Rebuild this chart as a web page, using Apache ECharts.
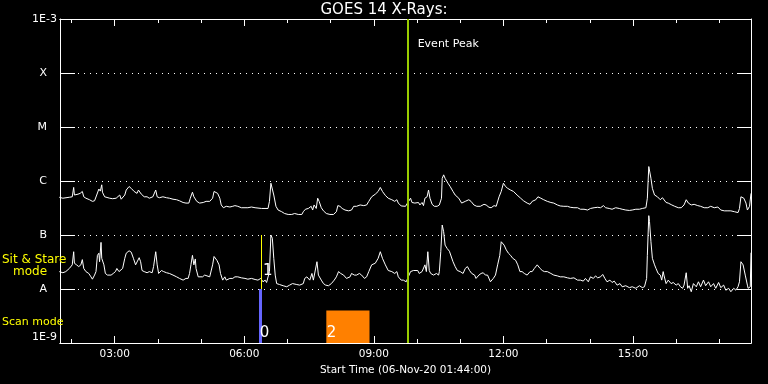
<!DOCTYPE html>
<html>
<head>
<meta charset="utf-8">
<script src="https://cdn.jsdelivr.net/npm/echarts@6/dist/echarts.min.js"></script>
<style>
html,body{margin:0;padding:0;background:#000;}
#chart{width:768px;height:384px;}
</style>
</head>
<body>
<div id="chart"></div>
<script>
// ---------- DATA ----------
// time axis: minutes since 00:00 on 06-Nov-20
const startMinute = 104;   // 01:44
const endMinute = 1064;    // 17:44
const hourTickMinutes = [120,180,240,300,360,420,480,540,600,660,720,780,840,900,960,1020];
const labelTickMinutes = [180,360,540,720,900];
// y-axis tick labels for each decade (log10 of flux)
const decadeExponents = [-9,-8,-7,-6,-5,-4,-3];
const decadeLabels = ['1E-9','A','B','C','M','X','1E-3'];

// GOES 1-8 A (long channel) flux, W/m^2
const longTimes = [
 103,108,117,121,123,124,129,132,135,137,140,145,149,152,155,158,160,162,163,166,
 168,173,177,182,184,187,189,191,194,196,200,203,207,211,213,217,221,225,228,233,
 237,239,242,247,252,256,261,266,270,275,279,283,285,288,290,292,294,298,303,307,
 312,316,318,320,323,326,328,331,335,340,344,
 347,351,356,365,370,375,384,393,395,397,399,401,404,407,412,416,421,426,430,435,
 440,442,445,449,453,455,457,460,462,464,467,470,474,479,484,488,490,493,496,500,
 505,509,512,516,521,526,530,533,537,542,546,549,552,556,560,565,569,572,574,578,584,586,
 591,593,597,602,604,607,609,611,614,616,618,621,624,628,631,634,635,637,639,643,
 646,650,653,658,662,667,672,675,679,683,688,693,696,700,703,707,710,714,717,720,
 723,726,730,734,739,744,748,753,757,760,765,768,772,776,781,786,790,795,799,804,
 809,813,818,823,
 827,832,837,841,846,851,855,859,862,867,871,876,881,885,890,895,899,904,909,913,
 918,920,922,923,925,927,930,934,938,941,943,946,949,954,958,963,967,971,974,977,
 981,985,990,994,999,1004,1008,1013,1018,1022,1027,1032,1036,1041,1046,1048,1050,1054,1057,1059,
 1062,1064
];
const longFlux = [
 5.0e-7,4.8e-7,5.0e-7,5.1e-7,7.6e-7,5.5e-7,5.7e-7,5.9e-7,6.4e-7,5.1e-7,4.8e-7,4.5e-7,4.2e-7,4.3e-7,5.5e-7,7.1e-7,6.5e-7,8.5e-7,6.2e-7,5.1e-7,
 4.8e-7,4.8e-7,4.7e-7,4.8e-7,5.1e-7,5.5e-7,4.6e-7,4.8e-7,5.5e-7,6.8e-7,7.9e-7,7.3e-7,6.4e-7,5.9e-7,6.8e-7,5.7e-7,5.1e-7,5.1e-7,4.8e-7,5.1e-7,
 6.8e-7,5.1e-7,4.9e-7,5.1e-7,4.9e-7,4.8e-7,4.6e-7,4.5e-7,4.3e-7,4.0e-7,3.9e-7,3.9e-7,4.8e-7,6.2e-7,5.1e-7,5.5e-7,4.2e-7,3.9e-7,4.0e-7,4.2e-7,
 4.2e-7,4.8e-7,6.4e-7,6.5e-7,5.9e-7,4.8e-7,3.6e-7,3.2e-7,3.4e-7,3.3e-7,3.4e-7,
 3.5e-7,3.4e-7,3.2e-7,3.2e-7,3.3e-7,3.2e-7,3.1e-7,3.1e-7,4.2e-7,9.1e-7,8.5e-7,5.5e-7,3.4e-7,2.9e-7,2.7e-7,2.5e-7,2.4e-7,2.4e-7,2.5e-7,2.4e-7,
 2.4e-7,2.7e-7,3.0e-7,3.1e-7,3.4e-7,2.9e-7,3.6e-7,3.1e-7,4.8e-7,4.2e-7,3.2e-7,2.8e-7,2.5e-7,2.4e-7,2.4e-7,2.7e-7,3.5e-7,3.4e-7,3.1e-7,2.9e-7,
 2.8e-7,2.9e-7,3.4e-7,3.4e-7,3.6e-7,3.5e-7,3.6e-7,4.2e-7,5.1e-7,5.7e-7,6.4e-7,7.6e-7,6.4e-7,5.4e-7,4.8e-7,4.5e-7,4.2e-7,4.5e-7,3.9e-7,3.45e-7,3.4e-7,3.5e-7,
 4.8e-7,4.0e-7,3.9e-7,4.0e-7,3.6e-7,4.0e-7,3.5e-7,4.8e-7,5.1e-7,6.8e-7,4.8e-7,3.7e-7,3.4e-7,3.4e-7,3.6e-7,4.8e-7,1.12e-6,1.3e-6,1.12e-6,9.1e-7,
 7.9e-7,6.4e-7,5.5e-7,4.8e-7,3.9e-7,4.2e-7,4.5e-7,4.2e-7,3.6e-7,3.4e-7,3.4e-7,3.7e-7,3.6e-7,3.26e-7,3.2e-7,3.5e-7,3.4e-7,5.1e-7,6.4e-7,9.1e-7,
 7.9e-7,7.3e-7,6.8e-7,6.4e-7,5.5e-7,4.8e-7,4.3e-7,3.9e-7,3.7e-7,4.2e-7,4.5e-7,5.1e-7,4.8e-7,4.5e-7,4.2e-7,4.0e-7,3.9e-7,3.6e-7,3.45e-7,3.4e-7,
 3.4e-7,3.26e-7,3.2e-7,3.2e-7,
 3.0e-7,3.0e-7,2.9e-7,3.1e-7,3.2e-7,3.26e-7,3.2e-7,3.5e-7,3.2e-7,3.1e-7,3.0e-7,3.2e-7,3.1e-7,3.0e-7,2.9e-7,2.85e-7,2.9e-7,3.0e-7,3.0e-7,3.1e-7,
 3.2e-7,4.8e-7,1.85e-6,1.73e-6,1.12e-6,7.3e-7,5.5e-7,5.1e-7,4.5e-7,4.9e-7,4.8e-7,4.0e-7,3.9e-7,3.6e-7,3.4e-7,3.2e-7,3.2e-7,3.6e-7,4.5e-7,3.9e-7,
 3.6e-7,3.7e-7,3.5e-7,3.4e-7,3.2e-7,3.2e-7,3.4e-7,3.2e-7,3.3e-7,2.9e-7,2.8e-7,2.8e-7,2.8e-7,2.7e-7,2.6e-7,3.1e-7,5.1e-7,4.8e-7,3.9e-7,2.9e-7,
 3.4e-7,5.9e-7
];

// GOES 0.5-4 A (short channel) flux, W/m^2
const shortTimes = [
 103,108,112,117,121,123,124,127,130,133,135,137,140,144,147,149,152,154,156,158,
 159,161,162,165,167,170,175,178,181,183,186,188,191,194,196,200,203,206,209,211,
 214,216,218,221,225,228,232,234,237,239,241,245,248,252,256,261,266,270,275,279,
 282,284,286,288,290,292,293,296,298,302,305,307,312,316,318,320,322,325,327,330,
 333,335,340,344,
 347,351,356,361,365,370,375,379,383,386,389,391,393,395,397,399,401,403,405,409,
 414,419,423,427,429,433,437,442,444,447,449,451,454,456,458,461,463,467,470,473,
 477,481,485,488,491,494,498,502,507,509,513,516,520,523,527,530,533,537,542,546,
 549,552,556,560,565,569,572,574,578,581,585,
 591,593,595,597,601,603,607,609,611,613,615,617,619,623,627,630,631,633,635,637,
 639,642,645,647,650,653,656,660,664,667,670,673,676,680,682,686,689,692,695,698,
 702,706,709,712,715,717,719,721,724,727,730,733,737,740,743,746,749,753,757,760,
 763,767,771,774,777,781,786,790,795,799,804,809,813,818,823,
 827,831,834,838,841,845,848,851,855,858,861,864,868,871,874,878,882,885,890,895,
 899,904,909,913,916,919,920,922,923,925,927,930,932,935,938,940,942,943,946,949,
 953,956,960,963,966,969,971,974,976,978,981,984,988,991,994,998,1001,1005,1008,1012,
 1015,1019,1022,1026,1029,1033,1036,1040,1043,1046,1048,1050,1053,1056,1059,1060,1063,1064
];
const shortFlux = [
 2.1e-8,2.0e-8,2.1e-8,2.4e-8,2.8e-8,4.9e-8,3.0e-8,2.8e-8,2.6e-8,2.8e-8,3.5e-8,2.4e-8,2.1e-8,1.94e-8,1.68e-8,1.52e-8,1.81e-8,2.1e-8,4.2e-8,4.6e-8,
 3.2e-8,7.3e-8,3.7e-8,2.8e-8,1.94e-8,1.81e-8,1.81e-8,1.94e-8,2.1e-8,2.4e-8,2.1e-8,1.94e-8,2.4e-8,3.7e-8,4.6e-8,5.1e-8,4.8e-8,3.7e-8,2.8e-8,3.0e-8,
 3.8e-8,3.2e-8,2.2e-8,2.1e-8,2.0e-8,2.1e-8,2.0e-8,2.6e-8,4.9e-8,2.8e-8,1.94e-8,2.2e-8,2.1e-8,2.0e-8,1.94e-8,1.81e-8,1.68e-8,1.57e-8,1.46e-8,1.57e-8,
 1.57e-8,1.94e-8,2.85e-8,4.2e-8,2.8e-8,3.6e-8,2.4e-8,1.68e-8,1.57e-8,1.68e-8,1.81e-8,1.81e-8,1.68e-8,2.8e-8,4.0e-8,4.2e-8,3.4e-8,2.8e-8,1.94e-8,1.46e-8,
 1.68e-8,1.46e-8,1.57e-8,1.57e-8,
 1.68e-8,1.68e-8,1.61e-8,1.57e-8,1.52e-8,1.57e-8,1.50e-8,1.46e-8,1.57e-8,1.36e-8,1.46e-8,1.32e-8,1.36e-8,2.1e-8,1.0e-7,8.7e-8,3.7e-8,1.81e-8,1.26e-8,1.21e-8,
 1.15e-8,1.10e-8,1.18e-8,1.26e-8,1.36e-8,1.21e-8,1.18e-8,1.26e-8,1.57e-8,1.68e-8,1.81e-8,1.46e-8,1.94e-8,1.46e-8,1.36e-8,3.2e-8,1.81e-8,1.46e-8,1.26e-8,1.18e-8,
 1.15e-8,1.26e-8,1.46e-8,1.68e-8,2.1e-8,1.94e-8,1.81e-8,1.57e-8,1.68e-8,1.94e-8,1.81e-8,1.81e-8,1.94e-8,1.81e-8,1.57e-8,1.68e-8,2.1e-8,2.8e-8,3.0e-8,3.7e-8,
 4.9e-8,3.7e-8,2.8e-8,2.2e-8,2.1e-8,1.94e-8,2.1e-8,1.68e-8,1.46e-8,1.46e-8,1.36e-8,
 2.1e-8,2.1e-8,2.2e-8,2.1e-8,2.2e-8,1.94e-8,2.1e-8,2.0e-8,2.8e-8,2.1e-8,4.9e-8,2.2e-8,1.94e-8,1.81e-8,1.94e-8,1.81e-8,2.1e-8,4.9e-8,1.53e-7,1.15e-7,
 6.5e-8,5.6e-8,5.0e-8,4.6e-8,3.2e-8,2.6e-8,2.2e-8,2.1e-8,1.94e-8,2.4e-8,2.6e-8,2.2e-8,1.94e-8,1.81e-8,1.57e-8,1.81e-8,1.94e-8,2.0e-8,1.81e-8,1.81e-8,
 1.36e-8,1.57e-8,1.81e-8,2.8e-8,4.2e-8,7.5e-8,8.1e-8,6.5e-8,5.3e-8,4.6e-8,4.2e-8,3.7e-8,3.4e-8,2.8e-8,2.1e-8,2.1e-8,1.94e-8,1.81e-8,2.1e-8,2.1e-8,
 2.4e-8,2.8e-8,2.4e-8,2.2e-8,2.1e-8,2.1e-8,1.94e-8,1.81e-8,1.75e-8,1.68e-8,1.68e-8,1.61e-8,1.57e-8,1.61e-8,1.46e-8,
 1.46e-8,1.40e-8,1.57e-8,1.36e-8,1.68e-8,1.57e-8,1.75e-8,1.61e-8,1.68e-8,1.86e-8,1.57e-8,1.36e-8,1.46e-8,1.32e-8,1.40e-8,1.18e-8,1.26e-8,1.10e-8,1.15e-8,1.06e-8,
 1.10e-8,1.03e-8,1.15e-8,1.06e-8,1.10e-8,1.57e-8,4.2e-8,2.28e-7,1.77e-7,7.5e-8,3.7e-8,2.8e-8,2.4e-8,1.94e-8,1.81e-8,1.46e-8,2.1e-8,1.81e-8,1.26e-8,1.46e-8,
 1.26e-8,1.32e-8,1.18e-8,1.26e-8,1.10e-8,1.03e-8,1.18e-8,2.0e-8,1.03e-8,1.15e-8,8.9e-9,1.26e-8,1.10e-8,1.36e-8,1.10e-8,1.46e-8,1.15e-8,1.36e-8,1.10e-8,1.26e-8,
 1.03e-8,1.32e-8,1.06e-8,1.18e-8,9.5e-9,1.03e-8,8.9e-9,1.03e-8,9.5e-9,1.10e-8,1.36e-8,3.2e-8,2.8e-8,1.81e-8,1.18e-8,1.03e-8,1.10e-8,4.7e-8
];

// events
const eventPeakMinute = 587;            // 09:47
const eventPeakLabel = 'Event Peak';
const eventPeakLabelFlux = 3.4e-4;
const scanEvent0Minute = 382;           // blue scan-mode marker (event 0)
const sitStareEvent1Minute = 383.5;     // yellow sit&stare marker (event 1)
const scanEvent2Range = [474, 534];     // orange scan-mode block (event 2)
const scanEvent2TopFlux = 4.0e-9;
const eventNumbers = ['0','1','2'];
const eventNumberTimes = [381.5, 386, 474.5];
const eventNumberFlux = [1.5e-9, 2.14e-8, 1.5e-9];

// ---------- CHART ----------
const pad = n => (n < 10 ? '0' : '') + n;
const fmtTime = m => pad(Math.floor(m / 60)) + ':' + pad(Math.round(m % 60));
const FONT = 'DejaVu Sans';

function xAxisBase(position, ticks, len, withLabels) {
  const ax = {
    type: 'value', min: startMinute, max: endMinute, position: position,
    axisLine: { show: true, onZero: false, lineStyle: { color: '#fff', width: 1 } },
    splitLine: { show: false },
    axisTick: { show: true, inside: true, length: len, customValues: ticks, lineStyle: { color: '#fff', width: 1 } },
    axisLabel: { show: false }
  };
  if (withLabels) {
    ax.axisLabel = { show: true, customValues: labelTickMinutes, formatter: v => fmtTime(v),
      color: '#fff', fontFamily: FONT, fontSize: 10.5, margin: 6 };
    ax.name = 'Start Time (06-Nov-20 01:44:00)';
    ax.nameLocation = 'middle';
    ax.nameGap = 19;
    ax.nameTextStyle = { color: '#fff', fontFamily: FONT, fontSize: 10.5 };
  }
  return ax;
}

function yLabel(v) {
  const e = Math.round(Math.log10(v));
  const i = decadeExponents.indexOf(e);
  if (i < 0) return '';
  const t = decadeLabels[i];
  return t.length === 1 ? '{l|' + t + '}' : '{n|' + t + '}';
}

const chart = echarts.init(document.getElementById('chart'), null, { renderer: 'canvas' });
const option = {
  backgroundColor: '#000',
  animation: false,
  title: {
    text: 'GOES 14 X-Rays:', left: 'center', top: 3, padding: 0,
    textStyle: { color: '#fff', fontFamily: FONT, fontSize: 15, fontWeight: 'normal' }
  },
  grid: { left: 60, right: 17, top: 19, bottom: 41, containLabel: false },
  xAxis: [
    xAxisBase('bottom', hourTickMinutes, 4, false),
    xAxisBase('bottom', labelTickMinutes, 7, true),
    xAxisBase('top', hourTickMinutes, 4, false),
    xAxisBase('top', labelTickMinutes, 7, false)
  ],
  yAxis: [
    {
      type: 'log', logBase: 10, min: 1e-9, max: 1e-3, position: 'left',
      axisLine: { show: true, lineStyle: { color: '#fff', width: 1 } },
      axisTick: { show: true, inside: true, length: 15, lineStyle: { color: '#fff', width: 1 } },
      minorTick: { show: false },
      splitLine: { show: true, lineStyle: { color: '#fff', width: 1, type: [1, 5] } },
      axisLabel: {
        show: true, formatter: yLabel, margin: 3,
        verticalAlignMinLabel: 'bottom', verticalAlignMaxLabel: 'top',
        rich: {
          n: { color: '#fff', fontFamily: FONT, fontSize: 11 },
          l: { color: '#fff', fontFamily: FONT, fontSize: 11, padding: [0, 10, 0, 0] }
        }
      }
    },
    {
      type: 'log', logBase: 10, min: 1e-9, max: 1e-3, position: 'right',
      axisLine: { show: true, lineStyle: { color: '#fff', width: 1 } },
      axisTick: { show: true, inside: true, length: 14, lineStyle: { color: '#fff', width: 1 } },
      splitLine: { show: false },
      axisLabel: { show: false }
    }
  ],
  series: [
    {
      name: 'long', type: 'line', xAxisIndex: 0, yAxisIndex: 0,
      data: longTimes.map((t, i) => [t, longFlux[i]]),
      showSymbol: false, symbol: 'none',
      lineStyle: { color: '#fff', width: 1 }, z: 3
    },
    {
      name: 'short', type: 'line', xAxisIndex: 0, yAxisIndex: 0,
      data: shortTimes.map((t, i) => [t, shortFlux[i]]),
      showSymbol: false, symbol: 'none',
      lineStyle: { color: '#fff', width: 1 }, z: 3
    },
    {
      name: 'events', type: 'line', xAxisIndex: 0, yAxisIndex: 0, data: [], z: 5,
      markArea: {
        silent: true,
        data: [[
          { xAxis: scanEvent2Range[0], yAxis: scanEvent2TopFlux, itemStyle: { color: '#ff8000', opacity: 1 } },
          { xAxis: scanEvent2Range[1], yAxis: 1e-9 }
        ]],
        label: { show: false }
      },
      markLine: {
        silent: true, symbol: ['none', 'none'],
        label: { show: false },
        data: [
          { xAxis: eventPeakMinute, lineStyle: { color: '#99cc00', width: 2, type: 'solid' } },
          [ { coord: [scanEvent0Minute, 1e-8], lineStyle: { color: '#6666ff', width: 3, type: 'solid' } },
            { coord: [scanEvent0Minute, 1e-9] } ],
          [ { coord: [sitStareEvent1Minute, 1e-7], lineStyle: { color: '#ffff00', width: 1, type: 'solid' } },
            { coord: [sitStareEvent1Minute, 1e-8] } ]
        ]
      }
    },
    {
      name: 'labels', type: 'scatter', xAxisIndex: 0, yAxisIndex: 0, symbolSize: 0, z: 6,
      silent: true,
      data: eventNumbers.map((n, i) => ({ name: n, value: [eventNumberTimes[i], eventNumberFlux[i]] }))
        .concat([{ name: eventPeakLabel, value: [eventPeakMinute, eventPeakLabelFlux],
          label: { fontSize: 11, distance: 10 } }]),
      label: { show: true, position: 'right', distance: 0, formatter: '{b}', color: '#ffffff',
        opacity: 1, fontFamily: FONT, fontSize: 15 },
      itemStyle: { opacity: 1 },
      emphasis: { disabled: true }
    }
  ],
  graphic: [
    { type: 'text', left: 2, top: 254, style: { text: 'Sit & Stare', fill: '#ffff00', font: '12px "DejaVu Sans"' }, z: 10 },
    { type: 'text', left: 13, top: 266, style: { text: 'mode', fill: '#ffff00', font: '12px "DejaVu Sans"' }, z: 10 },
    { type: 'text', left: 2, top: 317, style: { text: 'Scan mode', fill: '#ffff00', font: '11px "DejaVu Sans"' }, z: 10 }
  ]
};
chart.setOption(option);
</script>
</body>
</html>
